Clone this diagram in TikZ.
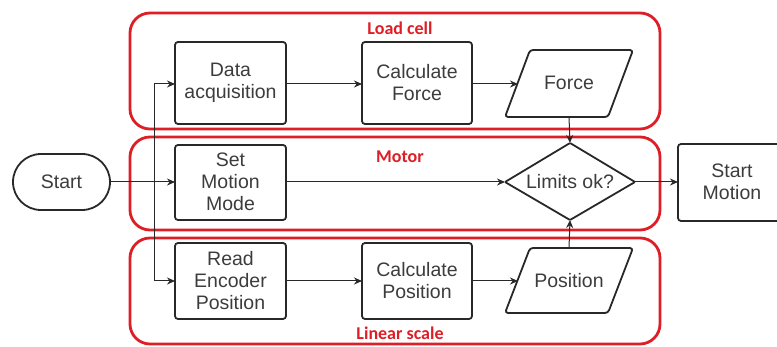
\documentclass[tikz,border=0pt]{standalone}
\usepackage{fontspec}
\setmainfont{Liberation Sans}
\newfontfamily\groupfont{Carlito}
\usetikzlibrary{arrows.meta,shapes.geometric}
\definecolor{groupred}{RGB}{222,30,38}
\definecolor{linegray}{RGB}{40,40,40}
\definecolor{textgray}{RGB}{60,60,60}
\tikzset{
  group/.style={draw=groupred,line width=2.8pt,rounded corners=20pt},
  grouplabel/.style={text=groupred,font=\groupfont\bfseries\fontsize{18}{21}\selectfont,inner sep=0pt},
  stepbox/.style={draw=linegray,line width=1.8pt,rounded corners=3pt},
  iobox/.style={draw=linegray,line width=1.8pt,rounded corners=3pt},
  label/.style={align=center,text=textgray,font=\fontsize{19.5}{22}\selectfont},
  flow/.style={draw=linegray,line width=1pt,-{Stealth[length=8pt,width=7pt]}},
  plain/.style={draw=linegray,line width=1pt},
}
\begin{document}
\begin{tikzpicture}[x=1pt,y=-1pt]
\useasboundingbox (0,0) rectangle (777,347);
\clip (0,0) rectangle (777,347);

% swim lanes
\draw[group] (130,13) rectangle (660,129);
\draw[group] (130,137) rectangle (660,230);
\draw[group] (130,238) rectangle (660,344);
\node[grouplabel] (lcell) at (400,28) {Load cell};
\node[grouplabel] (lmotor) at (400,157) {Motor};
\node[grouplabel] (lscale) at (400,333) {Linear scale};

% start terminal
\draw[linegray,line width=1.8pt,rounded corners=28pt] (13,154) rectangle (110,210);
\node[label] (start) at (61.5,182) {Start};
\coordinate (startE) at (110,182);

% load cell row
\draw[stepbox] (175,42) rectangle (286,124);
\node[label] (daq) at (230.5,83) {Data\\acquisition};
\draw[stepbox] (362,42) rectangle (472,124);
\node[label] (cforce) at (417,83) {Calculate\\Force};
\draw[iobox] (530,50) -- (633,50) -- (608,117) -- (505,117) -- cycle;
\node[label] (force) at (569,83) {Force};

% motor row
\draw[stepbox] (175,145) rectangle (286,220);
\node[label] (smm) at (230.5,182) {Set\\Motion\\Mode};
\draw[iobox,rounded corners=1pt] (570,143) -- (635,182) -- (570,220) -- (505,182) -- cycle;
\node[label] (limits) at (570,182) {Limits ok?};
\draw[stepbox] (678,144) rectangle (790,221);
\node[label] (smotion) at (732,182) {Start\\Motion};

% linear scale row
\draw[stepbox] (175,243) rectangle (286,319);
\node[label] (rep) at (230.5,281) {Read\\Encoder\\Position};
\draw[stepbox] (362,243) rectangle (472,319);
\node[label] (cpos) at (417,281) {Calculate\\Position};
\draw[iobox] (530,248) -- (633,248) -- (608,313) -- (505,313) -- cycle;
\node[label] (pos) at (569,281) {Position};

% anchor points on the shapes' outlines
\coordinate (daqW) at (175,84);
\coordinate (daqE) at (286,84);
\coordinate (cfW) at (362,84);
\coordinate (cfE) at (472,84);
\coordinate (fW) at (518,84);
\coordinate (fS) at (569,117);
\coordinate (smmW) at (175,182);
\coordinate (smmE) at (286,182);
\coordinate (limW) at (505,182);
\coordinate (limE) at (635,182);
\coordinate (limN) at (570,143);
\coordinate (limS) at (570,220);
\coordinate (smW) at (678,182);
\coordinate (repW) at (175,281);
\coordinate (repE) at (286,281);
\coordinate (cpW) at (362,281);
\coordinate (cpE) at (472,281);
\coordinate (pW) at (518,281);
\coordinate (pN) at (569,248);
\coordinate (split) at (154,182);
\coordinate (splitN) at (154,84);
\coordinate (splitS) at (154,281);

% connectors
\draw[flow] (startE) -- (smmW);
\draw[plain] (splitS) -- (splitN);
\draw[flow] (splitN) -- (daqW);
\draw[flow] (splitS) -- (repW);
\draw[flow] (daqE) -- (cfW);
\draw[flow] (cfE) -- (fW);
\draw[flow] (repE) -- (cpW);
\draw[flow] (cpE) -- (pW);
\draw[flow] (smmE) -- (limW);
\draw[flow] (limE) -- (smW);
\draw[flow] (fS) -- (limN);
\draw[flow] (pN) -- (limS);
\end{tikzpicture}
\end{document}
